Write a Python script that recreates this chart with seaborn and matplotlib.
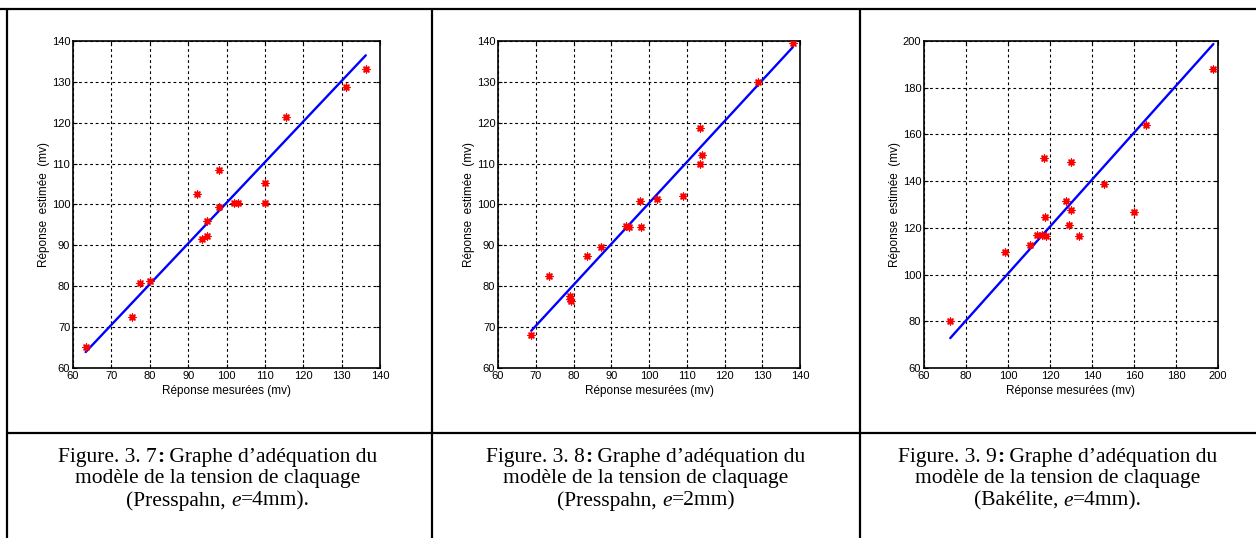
import numpy as np
import pandas as pd
import matplotlib
matplotlib.use('Agg')
import matplotlib.pyplot as plt
import seaborn as sns
from matplotlib.lines import Line2D
from matplotlib.offsetbox import TextArea, HPacker, AnnotationBbox

# Figure 3.7 - Presspahn, e=4mm
mes_1 = [63.3, 75.5, 77.4, 80.0, 92.3, 94.8, 93.7, 95.0, 98.0, 98.0, 101.9, 103.0, 110.0, 110.0, 115.5, 131.1, 136.3]
est_1 = [65.1, 72.5, 80.8, 81.3, 102.6, 95.9, 91.6, 92.2, 108.5, 99.5, 100.3, 100.3, 105.2, 100.3, 121.3, 128.8, 133.1]
fit_x_1 = [63.3, 136.3]
fit_y_1 = [63.9, 136.5]

# Figure 3.8 - Presspahn, e=2mm
mes_2 = [68.8, 73.4, 79.0, 79.2, 79.4, 83.5, 87.2, 93.8, 94.7, 97.5, 97.9, 102.2, 109.0, 113.6, 114.1, 113.6, 128.8, 138.1]
est_2 = [68.1, 82.4, 77.7, 76.9, 76.5, 87.3, 89.6, 94.8, 94.5, 100.9, 94.6, 101.3, 102.1, 118.7, 112.1, 109.8, 130.0, 139.4]
fit_x_2 = [68.8, 138.1]
fit_y_2 = [69.1, 138.5]

# Figure 3.9 - Bakelite, e=4mm
mes_3 = [72.5, 98.6, 110.5, 113.8, 116.0, 118.0, 117.1, 117.6, 127.6, 130.0, 129.0, 130.0, 133.8, 145.7, 160.2, 165.9, 197.8]
est_3 = [80.0, 109.5, 112.7, 116.9, 116.9, 116.5, 149.9, 124.6, 131.5, 127.6, 121.2, 148.2, 116.5, 138.6, 126.7, 163.9, 188.0]
fit_x_3 = [72.5, 197.8]
fit_y_3 = [72.8, 198.7]

limits = [(60, 140), (60, 140), (60, 200)]
ticks = [np.arange(60, 141, 10), np.arange(60, 141, 10), np.arange(60, 201, 20)]

fig_nums = ['7', '8', '9']
materials = ['Presspahn', 'Presspahn', 'Bakélite']
thickness = ['4mm).', '2mm)', '4mm).']

sns.set_style("white")
plt.rcParams['font.family'] = ['Liberation Sans Narrow', 'Liberation Sans', 'DejaVu Sans']
plt.rcParams['text.color'] = 'black'
plt.rcParams['axes.labelcolor'] = 'black'
plt.rcParams['xtick.color'] = 'black'
plt.rcParams['ytick.color'] = 'black'

W, H = 1256, 538
fig = plt.figure(figsize=(W / 100, H / 100), dpi=100)

# axes boxes in pixels: left, right, top, bottom
boxes = [(73, 380, 41, 368), (498, 800, 41, 368), (924, 1218, 41, 368)]
datasets = [(mes_1, est_1, fit_x_1, fit_y_1),
            (mes_2, est_2, fit_x_2, fit_y_2),
            (mes_3, est_3, fit_x_3, fit_y_3)]
centers = [218, 646, 1058]

cap = dict(family='Liberation Serif', size=15.5, color='black')


def caption_line(parts, xc, yc):
    areas = [TextArea(s, textprops={**cap, **extra}) for s, extra in parts]
    box = HPacker(children=areas, align='baseline', pad=0, sep=0)
    ab = AnnotationBbox(box, (xc / W, 1 - yc / H), xycoords='figure fraction',
                        frameon=False, box_alignment=(0.5, 0.5), pad=0)
    fig.add_artist(ab)


for i in range(3):
    l, r, t, b = boxes[i]
    ax = fig.add_axes([l / W, 1 - b / H, (r - l) / W, (b - t) / H])
    mx, ey, fx, fy = datasets[i]
    df = pd.DataFrame({'mes': mx, 'est': ey})
    fit = pd.DataFrame({'x': fx, 'y': fy})
    sns.lineplot(data=fit, x='x', y='y', ax=ax, color='#0000ff', linewidth=1.7, zorder=3)
    sns.scatterplot(data=df, x='mes', y='est', ax=ax, marker=(8, 2, 0), s=24,
                    color='red', edgecolor='red', linewidth=1.0, zorder=4)
    ax.set_xlim(*limits[i])
    ax.set_ylim(*limits[i])
    ax.set_xticks(ticks[i])
    ax.set_yticks(ticks[i])
    ax.grid(True, color='black', linestyle=(0, (2.5, 2.5)), linewidth=0.8)
    ax.tick_params(direction='in', length=3, width=0.8, labelsize=8, top=True, right=True,
                   bottom=True, left=True, pad=2)
    for sp in ax.spines.values():
        sp.set_color('black')
        sp.set_linewidth(1.2)
    ax.set_xlabel('Réponse mesurées (mv)', fontsize=8.5, labelpad=3)
    ax.set_ylabel('Réponse  estimée  (mv)', fontsize=8.5, labelpad=1)

    caption_line([('Figure. 3. ' + fig_nums[i], {}), (':', {'weight': 'bold'}),
                  (' Graphe d’adéquation du', {})], centers[i], 457)
    caption_line([('modèle de la tension de claquage', {})], centers[i], 479)
    caption_line([('(' + materials[i] + ', ', {}), ('e', {'style': 'italic'}),
                  ('=' + thickness[i], {})], centers[i], 501)

# table borders
lw = 1.6
fig.add_artist(Line2D([0, 1], [1 - 9 / H, 1 - 9 / H], transform=fig.transFigure, color='black', lw=lw))
fig.add_artist(Line2D([7 / W, 1], [1 - 433 / H, 1 - 433 / H], transform=fig.transFigure, color='black', lw=lw))
for x in [7, 432, 860]:
    fig.add_artist(Line2D([x / W, x / W], [0, 1 - 9 / H], transform=fig.transFigure, color='black', lw=lw))

fig.savefig('out.png', dpi=100)
